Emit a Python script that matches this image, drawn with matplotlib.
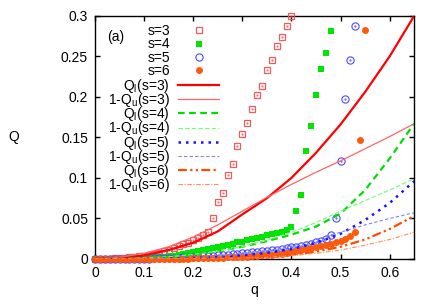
import numpy as np
import matplotlib
matplotlib.use('Agg')
import matplotlib.pyplot as plt

plt.rcParams['font.family'] = ['Liberation Sans', 'DejaVu Sans']
plt.rcParams['mathtext.default'] = 'regular'

# simulated points, q sampled every 0.01 starting at 0
s3 = [0, 0.0001, 0.0002, 0.0004, 0.0007, 0.0011, 0.0015, 0.0020, 0.0027, 0.0034, 0.0042,
      0.0052, 0.0063, 0.0078, 0.0099, 0.0115, 0.0136, 0.016, 0.018, 0.020, 0.023,
      0.026, 0.030, 0.033, 0.050, 0.070, 0.082, 0.104, 0.117, 0.139, 0.154,
      0.168, 0.185, 0.202, 0.214, 0.233, 0.245, 0.263, 0.274, 0.288, 0.300]
s4 = [0, 0.0000, 0.0001, 0.0001, 0.0002, 0.0003, 0.0004, 0.0006, 0.0008, 0.0010, 0.0013,
      0.0016, 0.0020, 0.0024, 0.0029, 0.0035, 0.0042, 0.0050, 0.0059, 0.0069, 0.0080,
      0.0092, 0.0105, 0.0119, 0.0134, 0.0150, 0.0160, 0.0175, 0.0190, 0.0205, 0.0215,
      0.0230, 0.0245, 0.0260, 0.0275, 0.0290, 0.0305, 0.0320, 0.0335, 0.0355, 0.039,
      0.059, 0.079, 0.133, 0.164, 0.202, 0.235, 0.254, 0.281]
s5 = [0, 0, 0, 0, 0.0001, 0.0001, 0.0001, 0.0002, 0.0002, 0.0003, 0.0004,
      0.0005, 0.0006, 0.0007, 0.0009, 0.0011, 0.0013, 0.0015, 0.0018, 0.0021, 0.0024,
      0.0027, 0.0031, 0.0035, 0.0039, 0.0043, 0.0048, 0.0053, 0.0058, 0.0063, 0.0068,
      0.0074, 0.0080, 0.0087, 0.0094, 0.0101, 0.0108, 0.0116, 0.0124, 0.0133, 0.0143,
      0.0153, 0.0164, 0.0176, 0.0189, 0.0204, 0.0222, 0.0250, 0.0300, 0.051, 0.121,
      0.198, 0.245, 0.288]
s6 = [0, 0, 0, 0, 0, 0, 0, 0, 0, 0, 0,
      0.0001, 0.0001, 0.0001, 0.0002, 0.0002, 0.0003, 0.0003, 0.0004, 0.0005, 0.0006,
      0.0007, 0.0008, 0.0010, 0.0012, 0.0014, 0.0016, 0.0018, 0.0021, 0.0024, 0.0027,
      0.0030, 0.0034, 0.0038, 0.0043, 0.0048, 0.0054, 0.0060, 0.0067, 0.0075, 0.0084,
      0.0094, 0.0105, 0.0117, 0.0130, 0.0144, 0.0158, 0.0172, 0.0187, 0.0203, 0.0220,
      0.0245, 0.0280, 0.0330, 0.147, 0.283]

# analytic bounds, q sampled every 0.05
q_line = [0, 0.05, 0.10, 0.15, 0.20, 0.25, 0.30, 0.35, 0.40, 0.45, 0.50, 0.55, 0.60, 0.65]
ql3 = [0, 0.0009, 0.0044, 0.011, 0.020, 0.034, 0.055, 0.075, 0.100, 0.131, 0.166, 0.206, 0.250, 0.300]
qu3 = [0, 0.002, 0.007, 0.015, 0.027, 0.042, 0.059, 0.076, 0.092, 0.107, 0.121, 0.136, 0.151, 0.167]
ql4 = [0, 0.0001, 0.0009, 0.0025, 0.0055, 0.0095, 0.015, 0.022, 0.030, 0.040, 0.056, 0.085, 0.124, 0.167]
qu4 = [0, 0.0002, 0.001, 0.0027, 0.0055, 0.0095, 0.015, 0.023, 0.033, 0.045, 0.059, 0.072, 0.085, 0.099]
ql5 = [0, 0, 0.0001, 0.0005, 0.0012, 0.0025, 0.0045, 0.0075, 0.012, 0.020, 0.031, 0.048, 0.069, 0.096]
qu5 = [0, 0, 0.0002, 0.0006, 0.0015, 0.0032, 0.006, 0.010, 0.016, 0.024, 0.033, 0.042, 0.050, 0.057]
ql6 = [0, 0, 0, 0, 0.0002, 0.0006, 0.0014, 0.0028, 0.005, 0.009, 0.015, 0.024, 0.037, 0.053]
qu6 = [0, 0, 0, 0.0001, 0.0002, 0.0005, 0.0011, 0.0022, 0.004, 0.007, 0.011, 0.017, 0.024, 0.033]

def qgrid(vals):
    return np.arange(len(vals)) * 0.01

W, H = 436, 305
fig = plt.figure(figsize=(W / 100, H / 100), dpi=100)
ax = fig.add_axes([0.218, 0.151, 0.732, 0.797])

pts = []
pts += ax.plot(qgrid(s3), s3, ls='none', marker='s', ms=4.6, mfc='none', mec='#f25a5a', mew=0.9,
               label='s=3', clip_on=False, zorder=3)
ax.plot(qgrid(s3), s3, ls='none', marker='.', ms=1.0, color='#f25a5a', clip_on=False, zorder=3)
pts += ax.plot(qgrid(s4), s4, ls='none', marker='s', ms=5.0, color='#00e600', mew=0,
               label='s=4', clip_on=False, zorder=3)
pts += ax.plot(qgrid(s5), s5, ls='none', marker='o', ms=5.2, mfc='none', mec='#4a4aff', mew=0.8,
               label='s=5', clip_on=False, zorder=3)
ax.plot(qgrid(s5), s5, ls='none', marker='.', ms=1.0, color='#4a4aff', clip_on=False, zorder=3)
pts += ax.plot(qgrid(s6), s6, ls='none', marker='o', ms=5.0, color='#ff5a0a', mew=0,
               label='s=6', clip_on=False, zorder=3)

lines = []
lines += ax.plot(q_line, ql3, color='#ff0000', lw=1.6, label=r'Q$_l$(s=3)', zorder=4)
lines += ax.plot(q_line, qu3, color='#ff6464', lw=0.9, label=r'1-Q$_u$(s=3)', zorder=4)
lines += ax.plot(q_line, ql4, color='#00dd00', lw=1.6, ls=(0, (3, 2)), label=r'Q$_l$(s=4)', zorder=4)
lines += ax.plot(q_line, qu4, color='#70ff70', lw=0.8, ls=(0, (4, 2)), label=r'1-Q$_u$(s=4)', zorder=4)
lines += ax.plot(q_line, ql5, color='#1414ff', lw=1.8, ls=(0, (1, 2)), label=r'Q$_l$(s=5)', zorder=4)
lines += ax.plot(q_line, qu5, color='#8080ff', lw=0.8, ls=(0, (3, 2)), label=r'1-Q$_u$(s=5)', zorder=4)
lines += ax.plot(q_line, ql6, color='#ff4a00', lw=1.6, ls=(0, (4, 1.5, 1, 1.5, 1, 1.5)),
                 label=r'Q$_l$(s=6)', zorder=4)
lines += ax.plot(q_line, qu6, color='#ff8a5a', lw=0.8, ls=(0, (4, 1.5, 1, 1.5)),
                 label=r'1-Q$_u$(s=6)', zorder=4)

ax.set_xlim(0, 0.65)
ax.set_ylim(0, 0.3)
ax.set_xticks([0, 0.1, 0.2, 0.3, 0.4, 0.5, 0.6])
ax.set_yticks([0, 0.05, 0.1, 0.15, 0.2, 0.25, 0.3])
ax.xaxis.set_major_formatter(matplotlib.ticker.FormatStrFormatter('%g'))
ax.yaxis.set_major_formatter(matplotlib.ticker.FormatStrFormatter('%g'))
ax.tick_params(direction='in', length=3.6, width=1.0, top=True, right=True, labelsize=10, pad=5)
for sp in ax.spines.values():
    sp.set_linewidth(1.0)

ax.set_xlabel('q', fontsize=10)
ax.set_ylabel('Q', fontsize=10, rotation=0, va='center', ha='center')
ax.yaxis.set_label_coords(-0.254, 0.5)
ax.xaxis.set_label_coords(0.5, -0.1)

ax.text(0.038, 0.914, '(a)', transform=ax.transAxes, fontsize=10, va='center', ha='left')

axbb = ax.get_window_extent()


def fit_legend(handles, first_y, pitch_target, x_right=170):
    # gnuplot-style key: labels right-aligned, samples on the right,
    # shifted/spaced until the label centres land where they do in the original
    spacing, anchor = 0.0, [0.392, 0.985]
    for _ in range(4):
        leg = ax.legend(handles=handles, loc='upper right', bbox_to_anchor=anchor,
                        markerfirst=False, frameon=False, fontsize=10, handlelength=2.95,
                        handletextpad=0.6, labelspacing=spacing, borderpad=0, borderaxespad=0)
        fig.canvas.draw()
        tb = [t.get_window_extent() for t in leg.get_texts()]
        first_c = 0.5 * (tb[0].y0 + tb[0].y1)
        last_c = 0.5 * (tb[-1].y0 + tb[-1].y1)
        pitch = (first_c - last_c) / (len(tb) - 1)
        spacing += (pitch_target - pitch) / (10 * 100 / 72)
        anchor[0] += (x_right - tb[0].x1) / axbb.width
        anchor[1] += ((H - first_y) - first_c) / axbb.height
        leg.remove()
    return ax.legend(handles=handles, loc='upper right', bbox_to_anchor=anchor,
                     markerfirst=False, frameon=False, fontsize=10, handlelength=2.95,
                     handletextpad=0.6, labelspacing=spacing, borderpad=0, borderaxespad=0)


leg_pts = fit_legend(pts, 31, 13.4)
ax.add_artist(leg_pts)
leg_lines = fit_legend(lines, 86, 14.15)

fig.savefig('out.png', dpi=100)
